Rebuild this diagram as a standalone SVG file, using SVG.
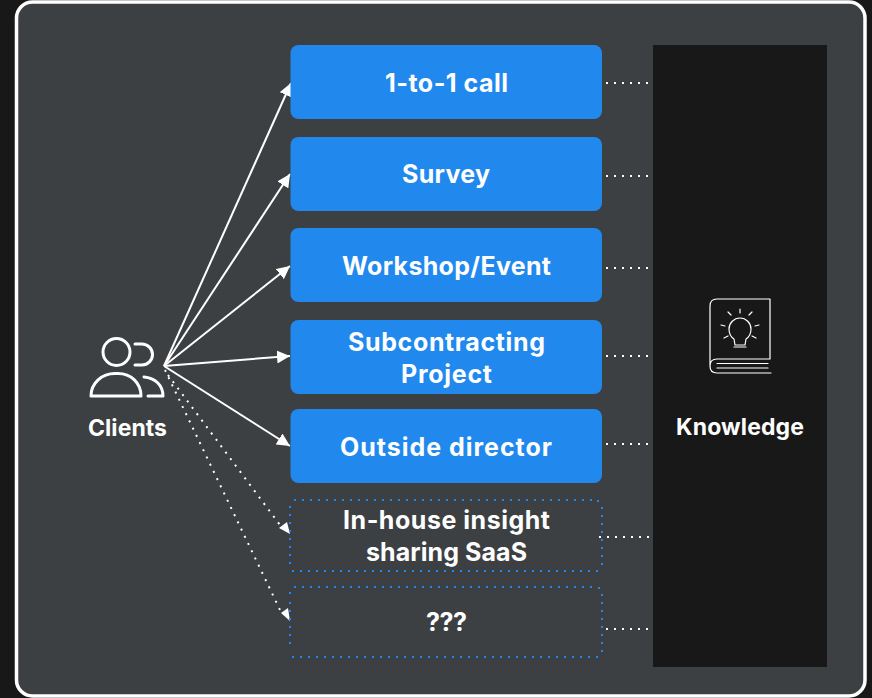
<svg xmlns="http://www.w3.org/2000/svg" width="872" height="698" viewBox="0 0 872 698">
<defs>
<marker id="ah" markerUnits="userSpaceOnUse" markerWidth="14" markerHeight="13" refX="13" refY="6.500" orient="auto"><path d="M0 0L13 6.500L0 13Z" fill="#fff"/></marker>
</defs>
<style>
text{font-family:"Inter","Open Sans","Liberation Sans",sans-serif;font-weight:700;font-size:25px;fill:#fff;text-anchor:middle}
.solid{fill:#2188ee}
.dash{fill:none;stroke:#2188ee;stroke-width:2;stroke-dasharray:2 6}
.corner{fill:#2188ee}
.arrow{stroke:#fff;stroke-width:2;fill:none;marker-end:url(#ah)}
.dot{stroke:#fff;stroke-width:2;fill:none;stroke-dasharray:2 6}
.ic{fill:none;stroke:#fff;stroke-linecap:round;stroke-linejoin:round}
</style>
<rect width="872" height="698" fill="#181818"/>
<rect x="16.500" y="2" width="848.500" height="694" rx="16" fill="#3c4043" stroke="#fff" stroke-width="3.500"/>
<g id="connectors">
<path class="arrow" d="M164 366L291 83"/>
<path class="arrow" d="M164 366L290 174"/>
<path class="arrow" d="M164 366L290 266"/>
<path class="arrow" d="M164 366L290 356"/>
<path class="arrow" d="M164 366L290 446"/>
<path class="dot" d="M168 375L280 525"/>
<path class="dot" d="M165 370L281 612"/>
<path d="M279 528L287 522L290 534Z" fill="#fff"/>
<path d="M281 613L288 608L290 621Z" fill="#fff"/>
<path class="dot" d="M606 83H650"/>
<path class="dot" d="M606 176H650"/>
<path class="dot" d="M606 268H650"/>
<path class="dot" d="M606 356H650"/>
<path class="dot" d="M606 444H650"/>
<path class="dot" d="M599 537H650"/>
<path class="dot" d="M606 629H648"/>
</g>
<g id="clients">
<circle class="ic" stroke-width="3" cx="116.500" cy="352" r="13.500"/>
<path class="ic" stroke-width="3" d="M135 344H142A10.500 10.500 0 0 1 142 365H135"/>
<path class="ic" stroke-width="3" d="M91 396C91 383 102 373.500 115 373.500H118C131 373.500 141 383 141 396Z"/>
<path class="ic" stroke-width="3" d="M144 377C155 378 163 385 163 396H148"/>
<text x="127.500" y="436" style="font-size:23px" textLength="79">Clients</text>
</g>
<g id="n1"><rect class="solid" x="290.500" y="45" width="311.500" height="74" rx="8"/><text x="446.500" y="92" textLength="123">1-to-1 call</text></g>
<g id="n2"><rect class="solid" x="290.500" y="137" width="311.500" height="74" rx="8"/><text x="446" y="183" textLength="88">Survey</text></g>
<g id="n3"><rect class="solid" x="290.500" y="228" width="311.500" height="74" rx="8"/><text x="446.500" y="275" textLength="209">Workshop/Event</text></g>
<g id="n4"><rect class="solid" x="290.500" y="320" width="311.500" height="74" rx="8"/><text x="446.500" y="351" textLength="197">Subcontracting</text><text x="446.500" y="383" textLength="91">Project</text></g>
<g id="n5"><rect class="solid" x="290.500" y="409" width="311.500" height="74" rx="8"/><text x="446" y="456" textLength="212">Outside director</text></g>
<g id="n6"><path class="dash" d="M294 500H592M602 507V566M292 571H598M290 506V564"/><rect class="corner" x="597" y="500" width="2" height="2"/><text x="446.500" y="529" textLength="207">In-house insight</text><text x="446.500" y="561" textLength="161">sharing SaaS</text></g>
<g id="n7"><path class="dash" d="M294 587H592M602 594V652M292 657H598M290 602V650M290 592V594.500"/><rect class="corner" x="598" y="587" width="2" height="2"/><text x="446.500" y="631" textLength="41">???</text></g>
<g id="knowledge">
<rect x="653" y="45" width="174" height="622" fill="#181818"/>
<g class="ic" stroke-width="1.200">
<path d="M770 299H717C712 299 710 302 710 306V366C710 371 712 373 717 373H771M710 366C710 361 712 359 717 359H770V299M717 363.500H768M717 368H768"/>
<path d="M734 339L735 345H745L746 339C749 337 751 334 751 329C751 323 746 318 740 318C734 318 729 323 729 329C729 334 731 337 734 339Z"/>
<path d="M734 347H746M740 309V313M728 312L731 315M752 312L749 315M721 325L725 326M759 325L755 326M724 338L728 336M756 338L752 336"/>
</g>
<text x="740" y="435" style="font-size:23px" textLength="128">Knowledge</text>
</g>
</svg>
